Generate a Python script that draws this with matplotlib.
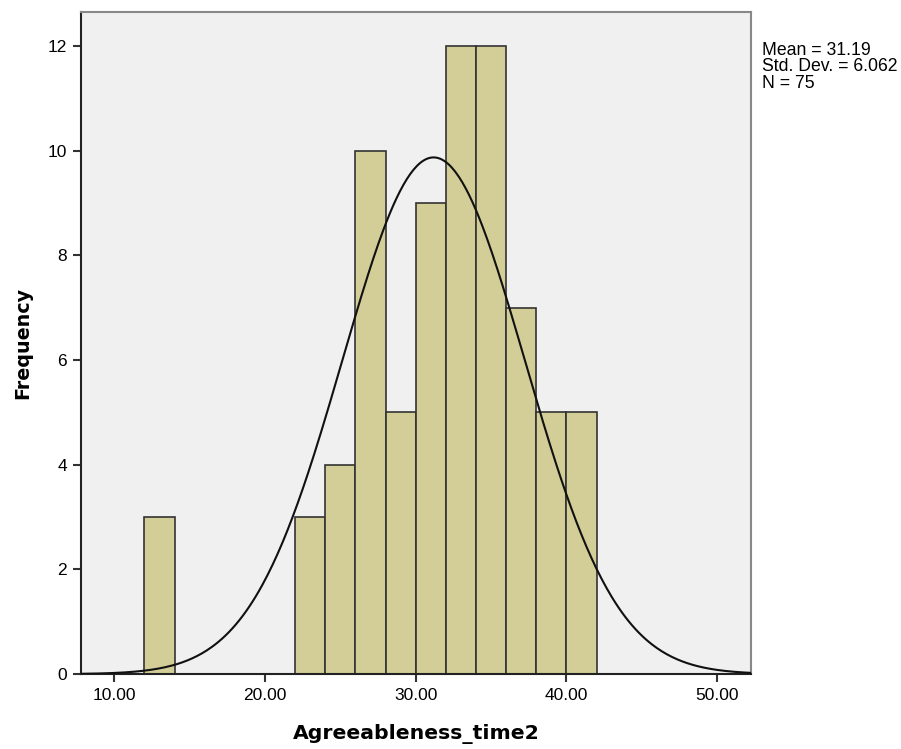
import numpy as np
import matplotlib
matplotlib.use("Agg")
import matplotlib.pyplot as plt

# histogram bins (width 2) and counts
bin_left = [12, 22, 24, 26, 28, 30, 32, 34, 36, 38, 40]
counts = [3, 3, 4, 10, 5, 9, 12, 12, 7, 5, 5]
bin_width = 2
mean_val, sd_val, n_val = 31.19, 6.062, 75
x_ticks = [10, 20, 30, 40, 50]
y_ticks = [0, 2, 4, 6, 8, 10, 12]

plt.rcParams["font.family"] = "Liberation Sans"

fig = plt.figure(figsize=(9.01, 7.49), dpi=100)
ax = fig.add_axes([0.090, 0.100, 0.7435, 0.884])
ax.set_facecolor("#f0f0f0")

ax.bar(bin_left, counts, width=bin_width, align="edge", color="#d3ce97",
       edgecolor="#333333", linewidth=1.2, zorder=2)

xs = np.linspace(7.8, 52.25, 400)
pdf = n_val * bin_width / (sd_val * np.sqrt(2 * np.pi)) * np.exp(-0.5 * ((xs - mean_val) / sd_val) ** 2)
ax.plot(xs, pdf, color="#111111", lw=1.5, zorder=3)

ax.set_xlim(7.8, 52.25)
ax.set_ylim(0, 12.65)
ax.set_xticks(x_ticks)
ax.set_xticklabels([f"{v:.2f}" for v in x_ticks], fontsize=12.5)
ax.set_yticks(y_ticks)
ax.set_yticklabels([str(v) for v in y_ticks], fontsize=12.5)
ax.tick_params(direction="out", length=6, width=1.5, color="#333333", pad=4)

for side in ["left", "bottom"]:
    ax.spines[side].set_color("#222222")
    ax.spines[side].set_linewidth(1.5)
for side in ["top", "right"]:
    ax.spines[side].set_color("#888888")
    ax.spines[side].set_linewidth(1.5)

ax.set_xlabel("Agreeableness_time2", fontsize=14.7, fontweight="bold",
              family="DejaVu Sans", labelpad=15)
ax.set_ylabel("Frequency", fontsize=13.8, fontweight="bold",
              family="DejaVu Sans", labelpad=11)

fig.text(0.846, 0.944, f"Mean = {mean_val:.2f}\nStd. Dev. = {sd_val:.3f}\nN = {n_val}",
         fontsize=12.7, va="top", ha="left", linespacing=0.95)

fig.savefig("out.png", dpi=100, facecolor="white")
